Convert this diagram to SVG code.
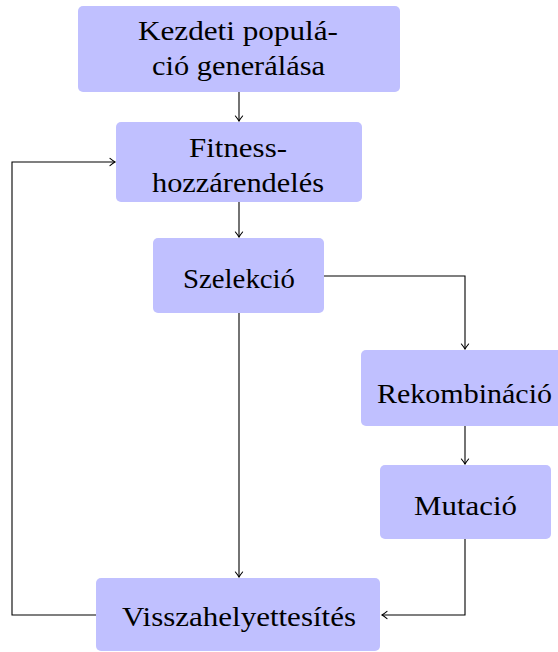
<svg xmlns="http://www.w3.org/2000/svg" width="558" height="652" viewBox="0 0 558 652">
<style>
.box{fill:#c0c0ff;stroke:none}
.t{font-family:"Liberation Serif","Times New Roman",serif;font-size:27px;fill:#000;text-anchor:middle}
.c{fill:none;stroke:#000;stroke-width:1.1}
</style>
<defs>
<marker id="ah" markerUnits="userSpaceOnUse" markerWidth="12" markerHeight="12" viewBox="-8 -6 10 12" refX="0" refY="0" orient="auto">
<path d="M-5,-3.6 Q-1.5,-0.8 0,0 Q-1.5,0.8 -5,3.6" fill="none" stroke="#000" stroke-width="1.1" stroke-linecap="round"/>
</marker>
</defs>
<rect width="558" height="652" fill="#fff"/>
<g id="connectors">
<path class="c" d="M239,92 V121" marker-end="url(#ah)"/>
<path class="c" d="M239,202 V237" marker-end="url(#ah)"/>
<path class="c" d="M239,313 V577" marker-end="url(#ah)"/>
<path class="c" d="M324,276 H465 V349" marker-end="url(#ah)"/>
<path class="c" d="M465,426 V464" marker-end="url(#ah)"/>
<path class="c" d="M465,539 V615 H382" marker-end="url(#ah)"/>
<path class="c" d="M96,615 H12 V162 H115" marker-end="url(#ah)"/>
</g>
<g id="n1">
<rect class="box" x="78" y="6" width="322" height="86" rx="5"/>
<text class="t" x="238" y="40" textLength="200" lengthAdjust="spacingAndGlyphs">Kezdeti populá-</text>
<text class="t" x="238.5" y="75" textLength="173" lengthAdjust="spacingAndGlyphs">ció generálása</text>
</g>
<g id="n2">
<rect class="box" x="116" y="122" width="246" height="80" rx="5"/>
<text class="t" x="238" y="157" textLength="98" lengthAdjust="spacingAndGlyphs">Fitness-</text>
<text class="t" x="238" y="192" textLength="172" lengthAdjust="spacingAndGlyphs">hozzárendelés</text>
</g>
<g id="n3">
<rect class="box" x="153" y="238" width="171" height="75" rx="5"/>
<text class="t" x="239" y="288" textLength="112" lengthAdjust="spacingAndGlyphs">Szelekció</text>
</g>
<g id="n4">
<rect class="box" x="361" y="350" width="208" height="76" rx="5"/>
<text class="t" x="464.5" y="403" textLength="175" lengthAdjust="spacingAndGlyphs">Rekombináció</text>
</g>
<g id="n5">
<rect class="box" x="380" y="465" width="171" height="74" rx="5"/>
<text class="t" x="465.5" y="515" textLength="103" lengthAdjust="spacingAndGlyphs">Mutació</text>
</g>
<g id="n6">
<rect class="box" x="96" y="578" width="284" height="73" rx="5"/>
<text class="t" x="239" y="626" textLength="234" lengthAdjust="spacingAndGlyphs">Visszahelyettesítés</text>
</g>
</svg>
